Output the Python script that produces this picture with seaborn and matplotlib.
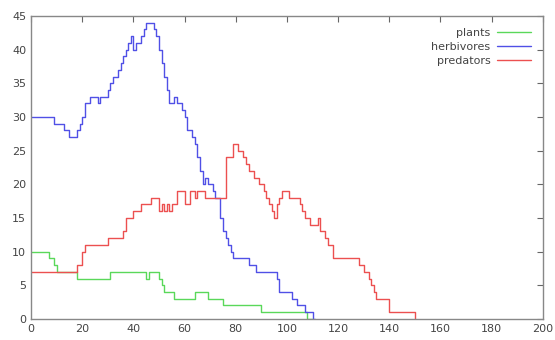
import pandas as pd
import matplotlib
matplotlib.use("Agg")
import matplotlib.pyplot as plt
import seaborn as sns

# Population change points (time step, count)
plant_t = [0, 7, 9, 10, 18, 31, 45, 46, 50, 51, 52, 56, 64, 69, 75, 90, 108, 110]
plant_n = [10, 9, 8, 7, 6, 7, 6, 7, 6, 5, 4, 3, 4, 3, 2, 1, 0, 0]

herb_t = [0, 9, 13, 15, 16, 18, 19, 20, 21, 23, 26, 27, 30, 31, 32, 34, 35, 36, 37,
          38, 39, 40, 41, 43, 44, 45, 48, 49, 50, 51, 52, 53, 54, 56, 57, 59, 60, 61,
          63, 64, 65, 66, 67, 68, 69, 71, 72, 74, 75, 76, 77, 78, 79, 85, 88, 96, 97,
          102, 104, 107, 110, 111]
herb_n = [30, 29, 28, 27, 27, 28, 29, 30, 32, 33, 32, 33, 34, 35, 36, 37, 38, 39, 40,
          41, 42, 40, 41, 42, 43, 44, 43, 42, 40, 38, 36, 34, 32, 33, 32, 31, 30, 28,
          27, 26, 24, 22, 20, 21, 20, 19, 18, 15, 13, 12, 11, 10, 9, 8, 7, 6, 4,
          3, 2, 1, 0, 0]

pred_t = [0, 18, 20, 21, 30, 36, 37, 40, 43, 47, 50, 51, 52, 53, 54, 55, 57, 60, 62,
          64, 65, 68, 76, 79, 81, 83, 84, 85, 87, 89, 91, 92, 93, 94, 95, 96, 97, 98,
          101, 105, 106, 107, 109, 112, 113, 115, 116, 118, 128, 130, 132, 133, 134,
          135, 140, 150]
pred_n = [7, 8, 10, 11, 12, 13, 15, 16, 17, 18, 16, 17, 16, 17, 16, 17, 19, 17, 19,
          18, 19, 18, 24, 26, 25, 24, 23, 22, 21, 20, 19, 18, 17, 16, 15, 17, 18, 19,
          18, 17, 16, 15, 14, 15, 13, 12, 11, 9, 8, 7, 6, 5, 4,
          3, 1, 0]

species = ["plants", "herbivores", "predators"]
colors = ["#5ad85a", "#5050e6", "#ec5050"]

df = pd.concat([
    pd.DataFrame({"time": plant_t, "count": plant_n, "species": "plants"}),
    pd.DataFrame({"time": herb_t, "count": herb_n, "species": "herbivores"}),
    pd.DataFrame({"time": pred_t, "count": pred_n, "species": "predators"}),
])

sns.set_style("white")
plt.rcParams["font.family"] = ["DejaVu Sans"]

fig = plt.figure(figsize=(5.55, 3.4), dpi=100)
ax = fig.add_axes([0.056, 0.062, 0.922, 0.891])

sns.lineplot(data=df, x="time", y="count", hue="species", hue_order=species,
             palette=colors, estimator=None, drawstyle="steps-post", linewidth=1.0,
             ax=ax)

ax.set_xlim(0, 200)
ax.set_ylim(0, 45)
ax.set_xticks(range(0, 201, 20))
ax.set_yticks(range(0, 46, 5))
ax.set_xlabel("")
ax.set_ylabel("")
ax.tick_params(direction="in", length=4, width=0.8, color="#666666",
               labelsize=8, labelcolor="#444444", top=True, right=True,
               labeltop=False, labelright=False)
for s in ax.spines.values():
    s.set_color("#888888")
    s.set_linewidth(1.0)

handles, labels = ax.get_legend_handles_labels()
leg = ax.legend(handles, labels, loc="upper right", frameon=False, markerfirst=False,
                fontsize=8, handlelength=3.0, labelspacing=0.35, borderaxespad=0.7,
                handletextpad=0.6)
for t in leg.get_texts():
    t.set_color("#444444")

fig.savefig("out.png", dpi=100)
